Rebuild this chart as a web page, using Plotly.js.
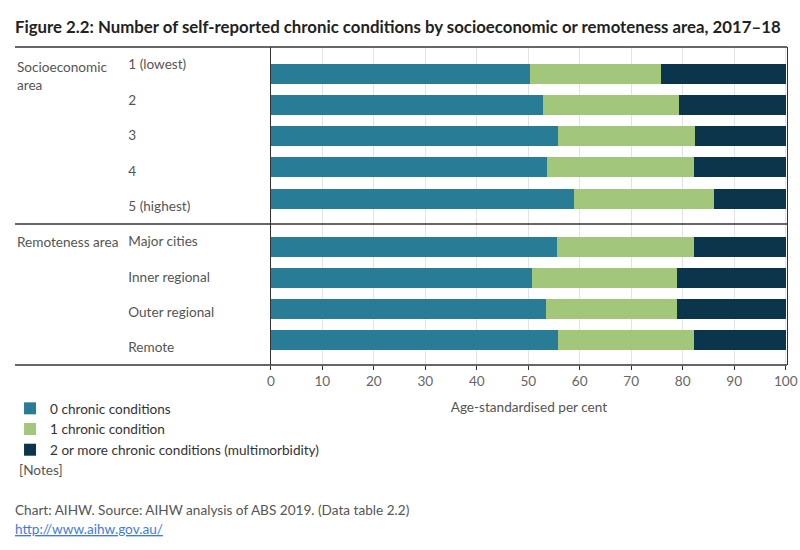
<!DOCTYPE html>
<html>
<head>
<meta charset="utf-8">
<script src="https://cdn.plot.ly/plotly-3.0.1.min.js"></script>
<style>html,body{margin:0;padding:0;background:#fff;}#chart{width:800px;height:550px;}</style>
</head>
<body>
<div id="chart"></div>
<script>
// ---- data ----
const seCategories = ["1 (lowest)", "2", "3", "4", "5 (highest)"];
const seNone = [50.3, 52.9, 55.7, 53.6, 58.9];
const seOne = [25.5, 26.3, 26.7, 28.6, 27.2];
const seTwoPlus = [24.2, 20.8, 17.6, 17.8, 13.9];

const raCategories = ["Major cities", "Inner regional", "Outer regional", "Remote"];
const raNone = [55.5, 50.7, 53.5, 55.7];
const raOne = [26.7, 28.1, 25.3, 26.5];
const raTwoPlus = [17.8, 21.2, 21.2, 17.8];

const seriesNames = ["0 chronic conditions", "1 chronic condition", "2 or more chronic conditions (multimorbidity)"];
const xTicks = [0, 10, 20, 30, 40, 50, 60, 70, 80, 90, 100];

// ---- styles ----
const colors = ["#297c96", "#a2c77b", "#0a354b"];
const FONT = "Lato, 'Noto Sans', sans-serif";
const FS = 13.6;
const W = 800, H = 550, ML = 10, MR = 13, MT = 47, MB = 185;
const PW = W - ML - MR, PH = H - MT - MB;
const px = v => (v - ML) / PW;          // pixel x -> paper x
const py = v => (H - MB - v) / PH;      // pixel y -> paper y
const split = py(224);

const seData = [seNone, seOne, seTwoPlus];
const raData = [raNone, raOne, raTwoPlus];

const traces = [];
seriesNames.forEach((name, i) => {
  traces.push({
    type: "bar", orientation: "h", name: name,
    x: seData[i], y: seCategories, xaxis: "x", yaxis: "y",
    marker: {color: colors[i], line: {width: 0}},
    legendgroup: "g" + i, showlegend: true, hoverinfo: "x+y+name"
  });
  traces.push({
    type: "bar", orientation: "h", name: name,
    x: raData[i], y: raCategories, xaxis: "x", yaxis: "y2",
    marker: {color: colors[i], line: {width: 0}},
    legendgroup: "g" + i, showlegend: false, hoverinfo: "x+y+name"
  });
});
// label carriers for category label axes
traces.push({type: "scatter", mode: "markers", x: seCategories.map(() => 0), y: seCategories,
  xaxis: "x", yaxis: "y3", marker: {opacity: 0, size: 1}, showlegend: false, hoverinfo: "skip"});
traces.push({type: "scatter", mode: "markers", x: raCategories.map(() => 0), y: raCategories,
  xaxis: "x", yaxis: "y4", marker: {opacity: 0, size: 1}, showlegend: false, hoverinfo: "skip"});

const labelAxis = (overlay, cats) => ({
  overlaying: overlay, type: "category", categoryarray: cats, categoryorder: "array",
  range: [cats.length - 0.5, -0.5], anchor: "free", position: px(123), side: "right",
  showgrid: false, zeroline: false, showline: false, ticks: "", fixedrange: true,
  tickfont: {family: FONT, size: FS, color: "#555"}
});

const hline = y => ({type: "line", xref: "paper", yref: "paper", x0: 0, x1: 1, y0: py(y), y1: py(y),
  line: {color: "#333", width: 1.3}});

const layout = {
  width: W, height: H,
  margin: {l: ML, r: MR, t: MT, b: MB},
  paper_bgcolor: "#fff", plot_bgcolor: "#fff",
  font: {family: FONT, size: FS, color: "#555"},
  barmode: "stack", bargap: 0.36,
  title: {
    text: "<b>Figure 2.2: Number of self-reported chronic conditions by socioeconomic or remoteness area, 2017–18</b>",
    font: {family: FONT, size: 16.8, color: "#222"},
    x: 15 / W, xref: "container", xanchor: "left",
    y: 1 - 27 / H, yref: "container", yanchor: "middle"
  },
  xaxis: {
    domain: [px(267.5), 1], range: [0, 100.25], anchor: "y2",
    tickvals: xTicks, ticktext: xTicks.map(String),
    showgrid: true, gridcolor: "#e3e3e3", gridwidth: 1, zeroline: false,
    showline: false, ticks: "outside", ticklen: 4, tickcolor: "#333", tickwidth: 1,
    tickfont: {family: FONT, size: FS, color: "#666"},
    title: {text: "Age-standardised per cent", font: {family: FONT, size: FS, color: "#555"}, standoff: 14},
    fixedrange: true
  },
  yaxis: {
    domain: [split, 1], type: "category", categoryarray: seCategories, categoryorder: "array",
    range: [4.81, -0.85], anchor: "x", showticklabels: false, showgrid: false, zeroline: false,
    showline: true, linecolor: "#333", linewidth: 1.3, mirror: true, ticks: "", fixedrange: true
  },
  yaxis2: {
    domain: [0, split], type: "category", categoryarray: raCategories, categoryorder: "array",
    range: [3.81, -0.73], anchor: "x", showticklabels: false, showgrid: false, zeroline: false,
    showline: true, linecolor: "#333", linewidth: 1.3, mirror: true, ticks: "", fixedrange: true
  },
  yaxis3: labelAxis("y", seCategories),
  yaxis4: labelAxis("y2", raCategories),
  showlegend: true,
  legend: {
    x: px(5), xanchor: "left", y: py(393), yanchor: "top",
    orientation: "v", traceorder: "normal",
    font: {family: FONT, size: FS, color: "#333"}, bgcolor: "rgba(0,0,0,0)",
    itemclick: false, itemdoubleclick: false
  },
  shapes: [hline(47), hline(224), hline(365)],
  annotations: [
    {text: "Socioeconomic<br>area", xref: "paper", yref: "paper", x: px(10), y: py(57),
      xanchor: "left", yanchor: "top", align: "left", showarrow: false,
      font: {family: FONT, size: FS, color: "#555"}},
    {text: "Remoteness area", xref: "paper", yref: "y4", x: px(10), y: "Major cities",
      xanchor: "left", yanchor: "middle", align: "left", showarrow: false,
      font: {family: FONT, size: FS, color: "#555"}},
    {text: "[Notes]", xref: "paper", yref: "paper", x: px(12), y: py(470),
      xanchor: "left", yanchor: "middle", showarrow: false,
      font: {family: FONT, size: FS, color: "#555"}},
    {text: "Chart: AIHW. Source: AIHW analysis of ABS 2019. (Data table 2.2)", xref: "paper", yref: "paper",
      x: px(8), y: py(510), xanchor: "left", yanchor: "middle", showarrow: false,
      font: {family: FONT, size: FS, color: "#555"}},
    {text: "<a href='http://www.aihw.gov.au/' style='text-decoration:underline'>http://www.aihw.gov.au/</a>",
      xref: "paper", yref: "paper", x: px(8), y: py(529), xanchor: "left", yanchor: "middle", showarrow: false,
      font: {family: FONT, size: FS, color: "#5aa6c8"}}
  ]
};

Plotly.newPlot("chart", traces, layout, {displayModeBar: false, staticPlot: false});
</script>
</body>
</html>
